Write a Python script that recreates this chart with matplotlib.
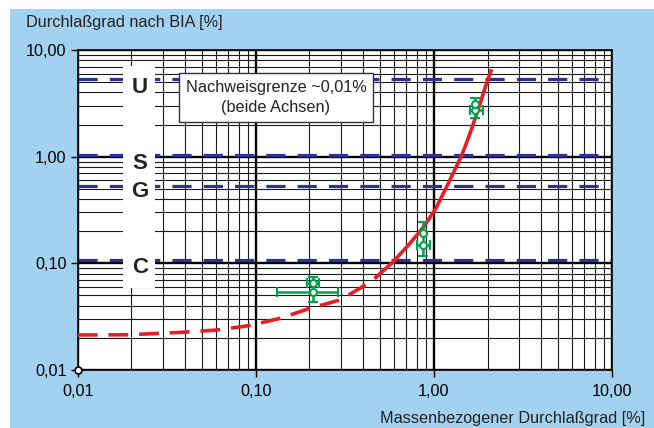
import numpy as np
import matplotlib
matplotlib.use('Agg')
import matplotlib.pyplot as plt
from matplotlib.patches import Rectangle

plt.rcParams['font.family'] = ['Liberation Sans', 'DejaVu Sans']

# red curve (Massenbezogener Durchlassgrad vs Durchlassgrad nach BIA)
curve_x = [0.01, 0.0197, 0.026, 0.0392, 0.0603, 0.0908, 0.1368, 0.2015, 0.297, 0.3846, 0.4774,
           0.5916, 0.734, 0.880, 1.028, 1.185, 1.438, 1.595, 1.769, 1.936, 2.092]
curve_y = [0.0213, 0.0214, 0.0219, 0.0226, 0.0237, 0.026, 0.0305, 0.0379, 0.0453, 0.0583, 0.0749,
           0.1036, 0.1541, 0.2215, 0.330, 0.531, 1.043, 1.649, 2.74, 4.40, 6.36]
n_dashed = 11  # first points drawn dashed

# class limits (dashed blue lines)
class_names = ['U', 'S', 'G', 'C']
class_limits = [5.3, 1.04, 0.53, 0.108]

# measured points: lower circle with full error bars, upper circle
meas_x = [0.209, 0.874, 1.712]
meas_y = [0.054, 0.147, 2.74]
meas_y_up = [0.065, 0.191, 3.12]
meas_ylo = [0.0437, 0.116, 2.29]
meas_yhi = [0.0749, 0.2456, 3.53]
meas_xlo = [0.1315, 0.80, 1.595]
meas_xhi = [0.2893, 0.951, 1.894]
up_xlo = [0.193, np.nan, np.nan]
up_xhi = [0.2255, np.nan, np.nan]

tick_vals = [0.01, 0.1, 1, 10]
tick_labels = ['0,01', '0,10', '1,00', '10,00']

bg = '#a2d2ef'
red = '#ec1c24'
blue = '#2e3192'
green = '#00a14b'

fig = plt.figure(figsize=(6.54, 4.28), dpi=100)
fig.patch.set_facecolor('white')
fig.patches.append(Rectangle((10 / 654, 0), 1, 1 - 9 / 428, transform=fig.transFigure,
                             facecolor=bg, edgecolor='none', zorder=-10))

ax = fig.add_axes([77.7 / 654, 1 - 370 / 428, 534.3 / 654, 320 / 428])
ax.set_facecolor('white')
ax.set_xscale('log')
ax.set_yscale('log')
ax.set_xlim(0.01, 10)
ax.set_ylim(0.01, 10)

# grid
ax.set_axisbelow(True)
ax.grid(which='major', color='black', lw=1.7)
ax.grid(which='minor', color='#1a1a1a', lw=0.8)

ax.set_xticks(tick_vals)
ax.set_xticklabels(tick_labels)
ax.set_yticks(tick_vals)
ax.set_yticklabels(tick_labels)
ax.tick_params(which='major', direction='out', length=5, width=1, labelsize=11.7, pad=3)
ax.tick_params(axis='x', pad=5)
ax.tick_params(which='minor', length=0)
for s in ax.spines.values():
    s.set_linewidth(1.2)
    s.set_color('black')

# class limit lines
for lim in class_limits:
    ax.axhline(lim, color=blue, lw=2.3, linestyle=(0, (6, 3.8)), zorder=2)

# white column with class letters
ax.add_patch(Rectangle((0.0848, 0.256), 0.06, 0.694, transform=ax.transAxes,
                       facecolor='white', edgecolor='none', zorder=3))
letter_y = [0.884, 0.644, 0.559, 0.320]
for name, yy in zip(class_names, letter_y):
    ax.text(0.1166, yy, name, transform=ax.transAxes, ha='center', va='center',
            fontsize=16, fontweight='bold', color='#222222', zorder=4)

# curve
ax.plot(curve_x[:n_dashed], curve_y[:n_dashed], color=red, lw=2.6,
        linestyle=(0, (5.5, 3)), zorder=5)
ax.plot(curve_x[n_dashed - 1:], curve_y[n_dashed - 1:], color=red, lw=2.6, zorder=5,
        solid_joinstyle='round')

# measurements
mx = np.array(meas_x)
my = np.array(meas_y)
xerr = [mx - np.array(meas_xlo), np.array(meas_xhi) - mx]
yerr = [my - np.array(meas_ylo), np.array(meas_yhi) - my]
ax.errorbar(mx, my, xerr=xerr, yerr=yerr, fmt='o', color=green, mfc='white', mec=green,
            ms=5, mew=1.5, elinewidth=1.8, capsize=3.5, capthick=1.8, zorder=6)
uy = np.array(meas_y_up)
uxerr = [mx - np.array(up_xlo), np.array(up_xhi) - mx]
ax.errorbar(mx, uy, xerr=uxerr, fmt='o', color=green, mfc='white', mec=green,
            ms=5, mew=1.5, elinewidth=1.8, capsize=3.5, capthick=1.8, zorder=6)

# origin circle
ax.plot([0.01], [0.01], 'o', mfc='white', mec='black', ms=5, mew=1.2, clip_on=False, zorder=10)

# note box
ax.text(0.371, 0.852, 'Nachweisgrenze ~0,01%\n(beide Achsen)', transform=ax.transAxes,
        ha='center', va='center', multialignment='center', fontsize=11.7, color='#222222',
        linespacing=1.45, zorder=7,
        bbox=dict(boxstyle='square,pad=0.4', facecolor='white', edgecolor='#333333', lw=1))

# axis titles
fig.text(26 / 654, 1 - 23 / 428, 'Durchlaßgrad nach BIA [%]', ha='left', va='center',
         fontsize=11.7, color='#222222')
fig.text(645 / 654, 1 - 418 / 428, 'Massenbezogener Durchlaßgrad [%]', ha='right', va='center',
         fontsize=11.7, color='#222222')

fig.savefig('out.png', dpi=100)
